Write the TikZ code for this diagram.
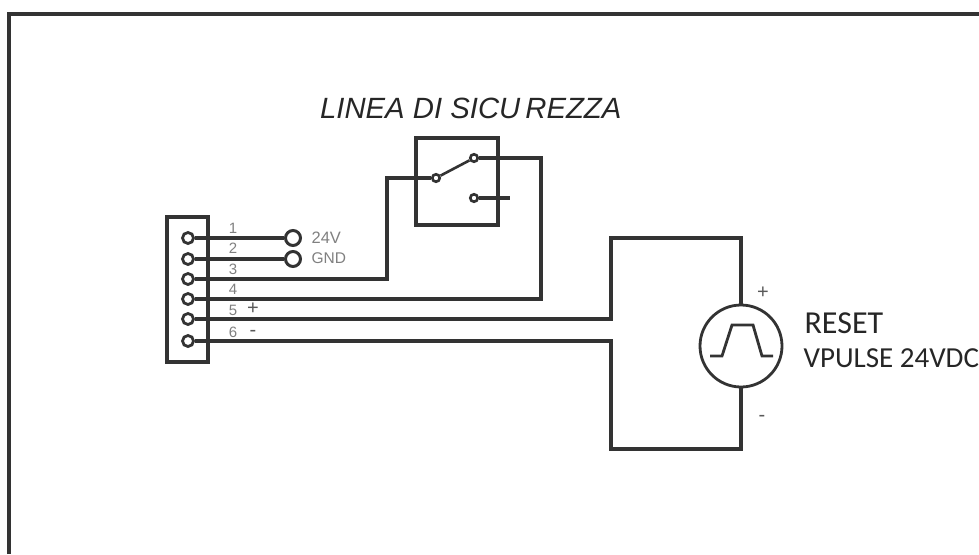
\documentclass[tikz,border=0pt]{standalone}
\usepackage{fontspec}
\setmainfont{Carlito}
\newfontfamily\labelfont{Liberation Sans}
\usetikzlibrary{positioning}

\begin{document}
\begin{tikzpicture}[
    x=1pt, y=-1pt,
    line width=3.2pt,
    wire/.style={draw=black!80},
    pin/.style={draw=black!80, circle, fill=white, minimum size=11pt, inner sep=0pt, line width=2.8pt},
    terminal/.style={draw=black!80, circle, fill=white, minimum size=15pt, inner sep=0pt, line width=3pt},
    contact/.style={draw=black!80, circle, fill=white, minimum size=7.5pt, inner sep=0pt, line width=2.6pt},
    pinnum/.style={font=\labelfont\fontsize{15}{15}\selectfont, text=black!50, inner sep=0pt, on grid},
    sign/.style={font=\labelfont\fontsize{20}{20}\selectfont, text=black!65, inner sep=0pt, on grid},
    note/.style={font=\fontsize{29}{29}\selectfont, text=black!85, inner sep=0pt}]

    \useasboundingbox (0,0) rectangle (979,554);
    \coordinate (framebl) at (9,554);
    \coordinate (frametl) at (9,14);
    \coordinate (frametr) at (979,14);
    \draw[wire, line width=3.4pt] (framebl) -- (frametl) -- (frametr);

    % connector
    \node[draw=black!80, minimum width=41pt, minimum height=145pt, inner sep=0pt] (conn) at (187.5,289.5) {};
    \node[draw=black!80, minimum width=82pt, minimum height=87pt, inner sep=0pt] (switch) at (457,181.5) {};

    \node[pin] (p1) at (188,238) {};
    \node[pin] (p2) at (188,259) {};
    \node[pin] (p3) at (188,279) {};
    \node[pin] (p4) at (188,299) {};
    \node[pin] (p5) at (188,319) {};
    \node[pin] (p6) at (188,341) {};

    \node[terminal] (t1) at (293,238) {};
    \node[terminal] (t2) at (293,259) {};

    \node[contact] (common) at (436,178) {};
    \node[contact] (closed) at (474,158) {};
    \node[contact] (open) at (474,198) {};

    % source
    \node[draw=black!80, circle, minimum size=82pt, inner sep=0pt, line width=2.8pt] (vpulse) at (741,346) {};

    \coordinate (openend) at (510,198);
    \coordinate (c3) at (387,279);
    \coordinate (c4) at (541,299);
    \coordinate (c5) at (611,319);
    \coordinate (c5top) at (611,238);
    \coordinate (c6) at (611,341);
    \coordinate (c6bot) at (611,449);

    \draw[wire] (p1) -- (t1);
    \draw[wire] (p2) -- (t2);
    \draw[wire] (p3) -- (c3) |- (common);
    \draw[wire] (p4) -- (c4) |- (closed);
    \draw[wire] (p5) -- (c5) -- (c5top) -| (vpulse.north);
    \draw[wire] (p6) -- (c6) -- (c6bot) -| (vpulse.south);
    \draw[wire] (open) -- (openend);
    \draw[wire, line width=2.6pt] (common) -- (closed);

    % pulse
    \draw[wire, line width=2.8pt] (710,356) -- (722,356) -- (732,325) -- (753,325) -- (762,356) -- (773,356);

    \node[pinnum] (n1) at (233,228) {1};
    \node[pinnum, below=20pt of n1] (n2) {2};
    \node[pinnum, below=21pt of n2] (n3) {3};
    \node[pinnum, below=20pt of n3] (n4) {4};
    \node[pinnum, below=21pt of n4] (n5) {5};
    \node[pinnum, below=22pt of n5] (n6) {6};
    \node[sign, right=20pt of n5, yshift=1pt] (pos) {+};
    \node[sign, right=20pt of n6, yshift=-1pt] (neg) {-};
    \node[pinnum, anchor=west, font=\labelfont\fontsize{16.5}{16.5}\selectfont] (lab24) at (310,238) {24V};
    \node[pinnum, anchor=west, font=\labelfont\fontsize{15.5}{15.5}\selectfont] (labgnd) at (310,258) {GND};

    \node[anchor=west, font=\labelfont\itshape\fontsize{29.3}{29.3}\selectfont, text=black!85, inner sep=0pt] (title) at (318.5,108.5) {LINEA DI SICU\kern5pt REZZA};

    \node[sign] (plus) at (763,293) {+};
    \node[sign] (minus) at (762,418) {-};
    \node[note, anchor=west, font=\fontsize{32}{32}\selectfont] (reset) at (803,323) {RESET};
    \node[note, anchor=west] (vlabel) at (802,358) {VPULSE 24VDC};
\end{tikzpicture}
\end{document}
